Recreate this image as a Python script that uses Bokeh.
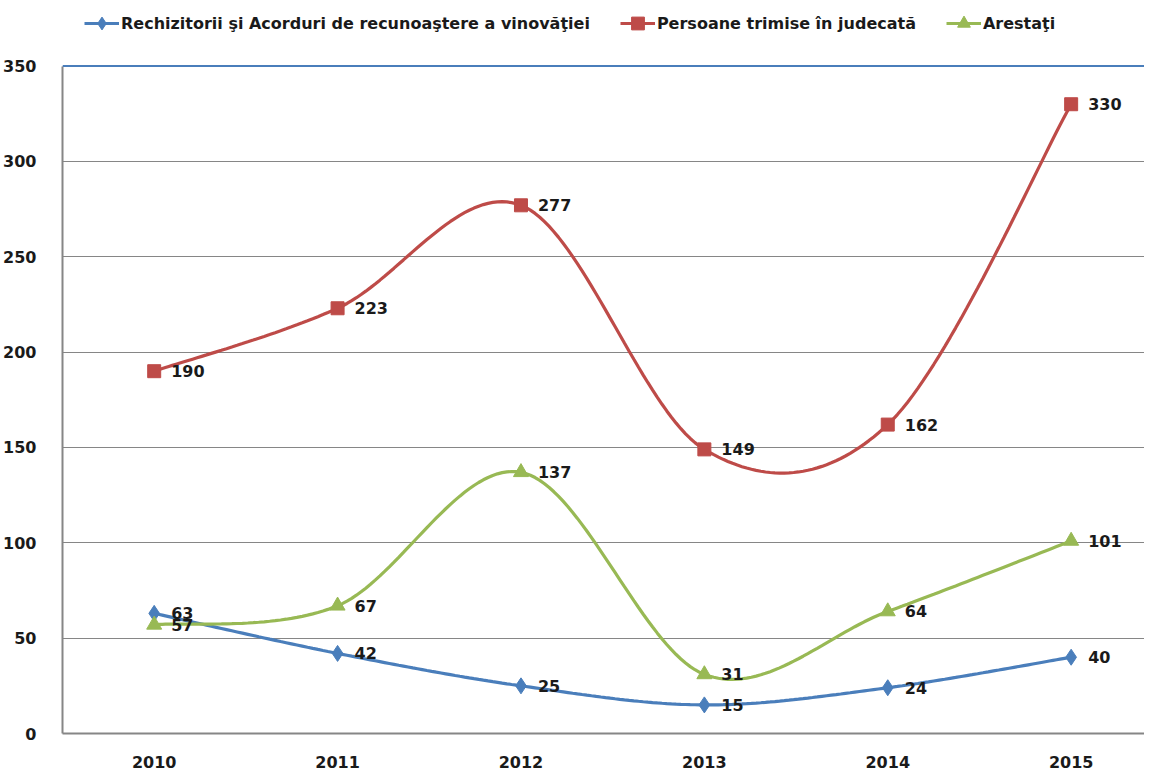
import numpy as np
from bokeh.plotting import figure
from bokeh.models import FixedTicker, Span, Legend, LegendItem, ColumnDataSource
from bokeh.core.properties import value
from bokeh.embed import file_html
from bokeh.resources import INLINE

years = ["2010", "2011", "2012", "2013", "2014", "2015"]
rechizitorii = [63, 42, 25, 15, 24, 40]
persoane = [190, 223, 277, 149, 162, 330]
arestati = [57, 67, 137, 31, 64, 101]
y_ticks = [0, 50, 100, 150, 200, 250, 300, 350]

names = ["Rechizitorii şi Acorduri de recunoaştere a vinovăţiei",
         "Persoane trimise în judecată",
         "Arestaţi"]
colors = ["#4A7EBB", "#BE4B48", "#98B954"]
markers = ["diamond", "square", "triangle"]
msizes = [16, 13, 15]

FONT = "DejaVu Sans"

def smooth(ys, n=40):
    xs = np.arange(len(ys), dtype=float)
    P = np.column_stack([xs, np.array(ys, dtype=float)])
    out = []
    for i in range(len(P) - 1):
        p0 = P[max(i - 1, 0)]
        p1 = P[i]
        p2 = P[i + 1]
        p3 = P[min(i + 2, len(P) - 1)]
        c1 = p1 + (p2 - p0) / 6.0
        c2 = p2 - (p3 - p1) / 6.0
        t = np.linspace(0, 1, n)[:, None]
        seg = ((1 - t) ** 3) * p1 + 3 * ((1 - t) ** 2) * t * c1 + 3 * (1 - t) * t ** 2 * c2 + t ** 3 * p2
        out.append(seg if i == 0 else seg[1:])
    s = np.vstack(out)
    return s[:, 0], s[:, 1]

ymax = max(y_ticks)
p = figure(width=1144, height=770, output_backend="svg", toolbar_location=None,
           x_range=(-0.5, 5.4), y_range=(0, ymax * 384.4 / 350.0),
           min_border_left=54, min_border_right=0, min_border_top=0, min_border_bottom=34)
p.outline_line_color = None
p.background_fill_color = "white"

p.xaxis.ticker = FixedTicker(ticks=list(range(len(years))))
p.xaxis.major_label_overrides = {i: y for i, y in enumerate(years)}
p.yaxis.ticker = FixedTicker(ticks=y_ticks)
p.yaxis.bounds = (0, ymax)
for ax in (p.xaxis, p.yaxis):
    ax.axis_line_color = "#868686"
    ax.axis_line_width = 2
    ax.major_tick_line_color = None
    ax.minor_tick_line_color = None
    ax.major_label_text_font = FONT
    ax.major_label_text_font_style = "bold"
    ax.major_label_text_font_size = "16px"
    ax.major_label_text_color = "#1a1a1a"
p.yaxis.major_label_standoff = 20
p.xaxis.major_label_standoff = 16
p.xgrid.grid_line_color = None
p.ygrid.grid_line_color = "#868686"
p.ygrid.grid_line_width = 1

p.add_layout(Span(location=ymax, dimension="width", line_color="#4A7EBB", line_width=2))

items = []
xs_idx = list(range(len(years)))
for vals, name, col, mk, ms in zip([rechizitorii, persoane, arestati], names, colors, markers, msizes):
    sx, sy = smooth(vals)
    lr = p.line(sx, sy, line_color=col, line_width=3.2)
    src = ColumnDataSource(dict(x=xs_idx, y=vals, t=[str(v) for v in vals]))
    mr = p.scatter("x", "y", source=src, marker=mk, size=ms, fill_color=col, line_color=col)
    p.text("x", "y", text="t", source=src, x_offset=17, text_align="left", text_baseline="middle",
           text_font=value(FONT), text_font_style="bold", text_font_size="16px", text_color="#1a1a1a")
    items.append(LegendItem(label=name, renderers=[lr, mr]))

legend = Legend(items=items, orientation="horizontal", location=(22, 694),
                label_text_font=FONT, label_text_font_style="bold", label_text_font_size="16px",
                label_text_color="#1a1a1a", glyph_width=35, glyph_height=32, label_standoff=2,
                spacing=30, padding=0, margin=0, border_line_color=None,
                background_fill_alpha=0)
p.add_layout(legend, "center")

open("out.html", "w").write(file_html(p, INLINE))
